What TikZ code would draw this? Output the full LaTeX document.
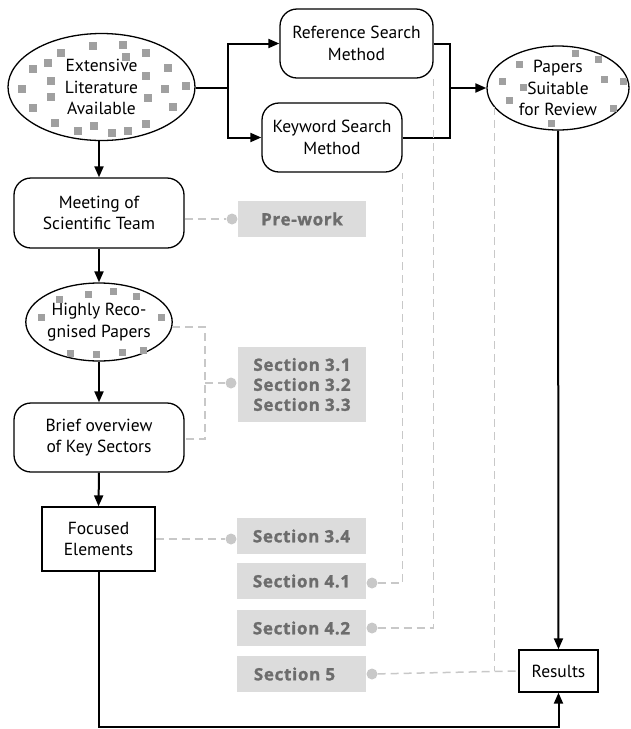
\documentclass[tikz,border=0pt]{standalone}
\usepackage{fontspec}
\setmainfont{PT Sans}
\newfontfamily\labfont[LetterSpace=4,BoldFeatures={FakeBold=1.3,LetterSpace=4}]{Open Sans}
\usetikzlibrary{shapes.geometric,arrows.meta}
\definecolor{sq}{HTML}{A0A0A0}
\definecolor{lbl}{HTML}{DCDCDC}
\definecolor{lbltxt}{HTML}{6C6C6C}
\definecolor{dl}{HTML}{C8C8C8}
\begin{document}
\begin{tikzpicture}[x=1pt,y=-1pt,
  txt/.style={font=\fontsize{17.5}{21.5}\selectfont, align=center},
  rbox/.style={txt, draw, line width=1.3pt, rounded corners=17pt, inner sep=0pt},
  sbox/.style={txt, draw, line width=1.3pt, inner sep=0pt},
  ell/.style={txt, draw, ellipse, line width=1.3pt, inner sep=0pt},
  lab/.style={fill=lbl, text=lbltxt, font=\labfont\bfseries\fontsize{17}{20}\selectfont, align=left, inner sep=0pt},
  arr/.style={-{Triangle[length=11pt,width=9pt]}, line width=2pt},
  ln/.style={line width=2pt},
  dsh/.style={draw=dl, dash pattern=on 8pt off 5pt, line width=1.5pt},
  dotn/.style={circle, fill=dl, inner sep=0pt, minimum size=11pt}
]
\useasboundingbox (0,0) rectangle (630,729);

% main nodes
\node[ell, minimum width=187pt, minimum height=107pt] (ext) at (101.5,87) {Extensive\\Literature\\Available};
\node[rbox, minimum width=153pt, minimum height=69pt] (ref) at (356.5,43.5) {Reference Search\\Method};
\node[rbox, minimum width=140pt, minimum height=69pt] (key) at (332,137.5) {Keyword Search\\Method};
\node[ell, minimum width=142pt, minimum height=84pt] (pap) at (558,88) {Papers\\Suitable\\for Review};
\node[rbox, minimum width=170pt, minimum height=70pt] (meet) at (99,213) {Meeting of\\Scientific Team};
\node[ell, minimum width=146pt, minimum height=78pt] (high) at (99,322) {Highly Reco-\\gnised Papers};
\node[rbox, minimum width=170pt, minimum height=69pt] (brief) at (99,437.5) {Brief overview\\of Key Sectors};
\node[sbox, minimum width=113pt, minimum height=64pt] (foc) at (98.5,539) {Focused\\Elements};
\node[sbox, minimum width=79pt, minimum height=42pt] (res) at (558.5,671) {Results};

% labels
\node[lab, minimum width=128pt, minimum height=36pt] (pre) at (302,219) {Pre-work};
\node[lab, minimum width=128pt, minimum height=75pt] (s3) at (302,384.5) {Section 3.1\\Section 3.2\\Section 3.3};
\node[lab, minimum width=129pt, minimum height=36pt] (s34) at (301.5,536) {Section 3.4};
\node[lab, minimum width=129pt, minimum height=36pt] (s41) at (301.5,581) {Section 4.1};
\node[lab, minimum width=129pt, minimum height=36pt] (s42) at (301.5,628) {Section 4.2};
\node[lab, minimum width=129pt, minimum height=36pt] (s5) at (301.5,674) {Section 5\hspace{14pt}};

% dots
\node[dotn] (predot) at (232,219) {};
\node[dotn] (s3dot) at (231,383) {};
\node[dotn] (s34dot) at (231,539) {};
\node[dotn] (s41dot) at (372,583) {};
\node[dotn] (s42dot) at (372,628) {};
\node[dotn] (s5dot) at (372,674) {};

% squares
\foreach \x/\y in {61/53,93/46,123/45,126/57,146/53,48/63,33/69,168/68,146/76,51/81,22/89,186/86,165/89,51/97,148/98,33/108,173/107,55/123,94/126,78/131,112/133,128/131,146/124}
  \fill[sq] (\x-4,\y-4) rectangle ++(8,8);
\foreach \x/\y in {575/53,598/59,519/64,502/81,523/87,604/79,623/81,509/100,613/108,551/123}
  \fill[sq] (\x-3.5,\y-3.5) rectangle ++(7,7);
\foreach \x/\y in {59/299,88/294,113/291,136/296,41/317,161/317,70/353,96/354,122/352,143/350}
  \fill[sq] (\x-3.5,\y-3.5) rectangle ++(7,7);

% coordinates
\coordinate (br) at (228,88);
\coordinate (jn) at (450,88);
\coordinate (bot) at (0,727);
\coordinate (sj) at (205,383);
\coordinate (hh) at (172,327);
\coordinate (bb) at (184,439);

% solid connectors
\draw[ln] (ext.east |- br) -- (br);
\draw[arr] (br) |- (ref.west);
\draw[arr] (br) |- (key.west);
\draw[ln] (ref.east) -| (jn);
\draw[ln] (key.east) -| (jn);
\draw[arr] (jn) -- (pap.west);
\draw[arr] (pap.south) -- (res.north);
\draw[arr] (meet.north |- ext.south) -- (meet.north);
\draw[arr] (meet.south) -- (high.north);
\draw[arr] (high.south) -- (brief.north);
\draw[arr] (brief.south) -- (foc.north);
\draw[arr] (foc.south) -- (foc.south |- bot) -| (res.south);

% dashed connectors
\draw[dsh] (meet.east |- pre) -- (predot);
\draw[dsh] (hh) -| (sj) |- (bb);
\draw[dsh] (sj) -- (s3dot);
\draw[dsh] (foc.east) -- (s34dot);
\draw[dsh] (s41dot) -| (key.south east);
\draw[dsh] (s42dot) -| (ref.south east);
\draw[dsh] (s5dot) -- (res.west);
\draw[dsh] (pap.197) -- (pap.197 |- res.west);
\end{tikzpicture}
\end{document}
